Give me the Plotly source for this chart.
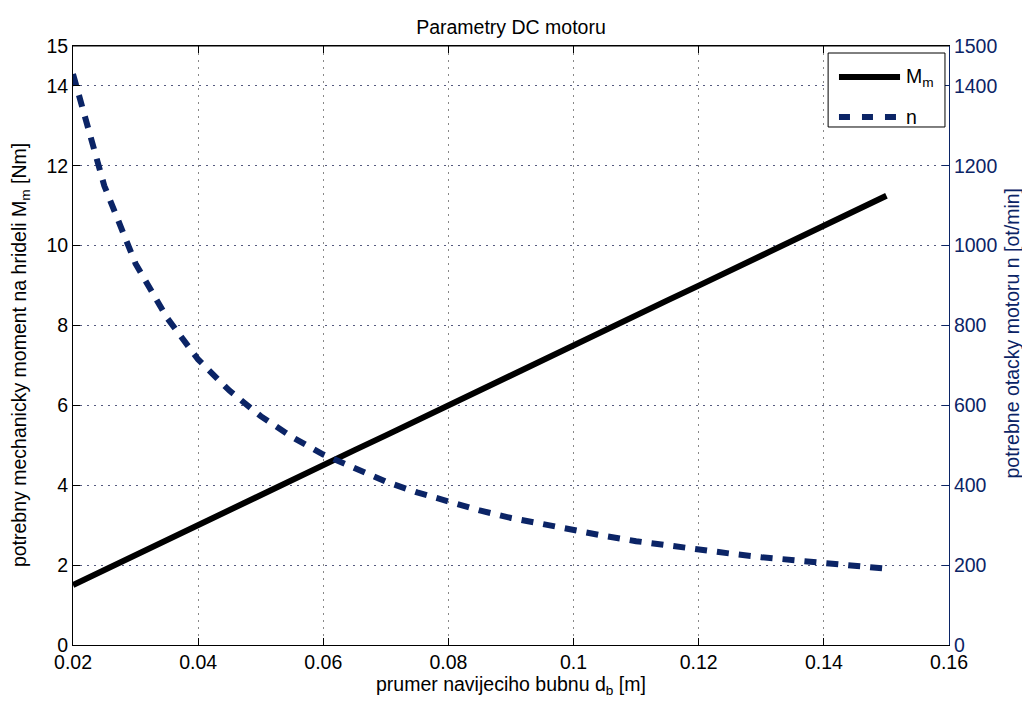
import plotly.graph_objects as go

# drum diameter [m]
d_vals = [0.02, 0.025, 0.03, 0.035, 0.04, 0.045, 0.05, 0.055, 0.06, 0.065, 0.07,
          0.075, 0.08, 0.085, 0.09, 0.095, 0.1, 0.105, 0.11, 0.115, 0.12, 0.125,
          0.13, 0.135, 0.14, 0.145, 0.15]
# torque M_m [Nm]
m_vals = [1.5, 1.88, 2.25, 2.63, 3.0, 3.38, 3.75, 4.13, 4.5, 4.88, 5.25,
          5.63, 6.0, 6.38, 6.75, 7.13, 7.5, 7.88, 8.25, 8.63, 9.0, 9.38,
          9.75, 10.13, 10.5, 10.88, 11.25]
# speed n [ot/min]
n_vals = [1430, 1150, 955, 820, 715, 637, 573, 521, 477, 441, 409,
          382, 358, 337, 318, 302, 287, 273, 260, 249, 239, 229,
          220, 212, 205, 198, 191]

x_ticks = [0.02, 0.04, 0.06, 0.08, 0.1, 0.12, 0.14, 0.16]
x_labels = ["0.02", "0.04", "0.06", "0.08", "0.1", "0.12", "0.14", "0.16"]
left_ticks = [0, 2, 4, 6, 8, 10, 12, 14, 15]
right_ticks = [0, 200, 400, 600, 800, 1000, 1200, 1400, 1500]
legend_names = ["M<sub>m</sub>", "n"]
title_text = "Parametry DC motoru"
x_title = "prumer navijeciho bubnu d<sub>b</sub> [m]"
y_title = "potrebny mechanicky moment na hrideli M<sub>m</sub> [Nm]"
y2_title = "potrebne otacky motoru n [ot/min]"

NAVY = "#0b2466"
FONT = "Liberation Sans, Arial, sans-serif"
FS = 19.5

fig = go.Figure()
fig.add_trace(go.Scatter(x=d_vals, y=m_vals, mode="lines", name=legend_names[0],
                         line=dict(color="black", width=6), yaxis="y", showlegend=False))
fig.add_trace(go.Scatter(x=d_vals, y=n_vals, mode="lines", name=legend_names[1],
                         line=dict(color=NAVY, width=6, dash="12px,10px"), yaxis="y2",
                         showlegend=False))

fig.update_layout(
    width=1022, height=701,
    paper_bgcolor="white", plot_bgcolor="white",
    margin=dict(l=73, r=73, t=46, b=56),
    font=dict(family=FONT, size=FS, color="black"),
    title=dict(text=title_text, x=0.5, xanchor="center", y=0.9615, yanchor="middle",
               font=dict(size=FS, family=FONT)),
    xaxis=dict(range=[0.02, 0.16], tickvals=x_ticks, ticktext=x_labels, automargin=False,
               ticks="inside", ticklen=7, tickcolor="black",
               showline=True, linecolor="black", linewidth=1, mirror="ticks",
               showgrid=True, gridcolor="#888888", griddash="2px,5px", gridwidth=1,
               zeroline=False),
    yaxis=dict(range=[0, 15], tickvals=left_ticks, ticks="inside", ticklen=7,
               automargin=False,
               tickcolor="black", showline=True, linecolor="black", linewidth=1,
               mirror=False, showgrid=True, gridcolor="#555a80", griddash="2px,5px",
               zeroline=False),
    yaxis2=dict(range=[0, 1500], tickvals=right_ticks, overlaying="y", side="right",
                automargin=False,
                ticks="inside", ticklen=7, tickcolor=NAVY, showline=True,
                linecolor=NAVY, linewidth=1, showgrid=False, zeroline=False,
                tickfont=dict(color=NAVY, size=FS)),
    showlegend=False,
)
# top border line
fig.add_shape(type="line", xref="paper", yref="paper", x0=0, x1=1, y0=1, y1=1,
              line=dict(color="black", width=1))

# axis titles
fig.add_annotation(xref="paper", yref="paper", x=0.5, y=-0.0684, text=x_title,
                   showarrow=False, xanchor="center", yanchor="middle",
                   font=dict(size=FS, color="black"))
fig.add_annotation(xref="paper", yref="paper", x=-0.0605, y=0.484, text=y_title,
                   showarrow=False, xanchor="center", yanchor="middle", textangle=-90,
                   font=dict(size=FS, color="black"))
fig.add_annotation(xref="paper", yref="paper", x=1.0719, y=0.52, text=y2_title,
                   showarrow=False, xanchor="center", yanchor="middle", textangle=-90,
                   font=dict(size=FS, color=NAVY))

# manual legend box (MATLAB style)
fig.add_shape(type="rect", xref="paper", yref="paper", x0=0.862, x1=0.9954,
              y0=0.8648, y1=0.9883, line=dict(color="black", width=1),
              fillcolor="white", layer="above")
fig.add_shape(type="line", xref="paper", yref="paper", x0=0.8744, x1=0.9441,
              y0=0.9482, y1=0.9482, line=dict(color="black", width=6), layer="above")
fig.add_shape(type="line", xref="paper", yref="paper", x0=0.8744, x1=0.9441,
              y0=0.8815, y1=0.8815, line=dict(color=NAVY, width=6, dash="11px,12px"),
              layer="above")
fig.add_annotation(xref="paper", yref="paper", x=0.9487, y=0.9482, text=legend_names[0],
                   showarrow=False, xanchor="left", yanchor="middle",
                   font=dict(size=FS, color="black"))
fig.add_annotation(xref="paper", yref="paper", x=0.9487, y=0.8815, text=legend_names[1],
                   showarrow=False, xanchor="left", yanchor="middle",
                   font=dict(size=FS, color="black"))

fig.write_html("out.html", config={"displayModeBar": False},
               post_script="document.body.style.margin='0';document.body.style.overflow='hidden';")
